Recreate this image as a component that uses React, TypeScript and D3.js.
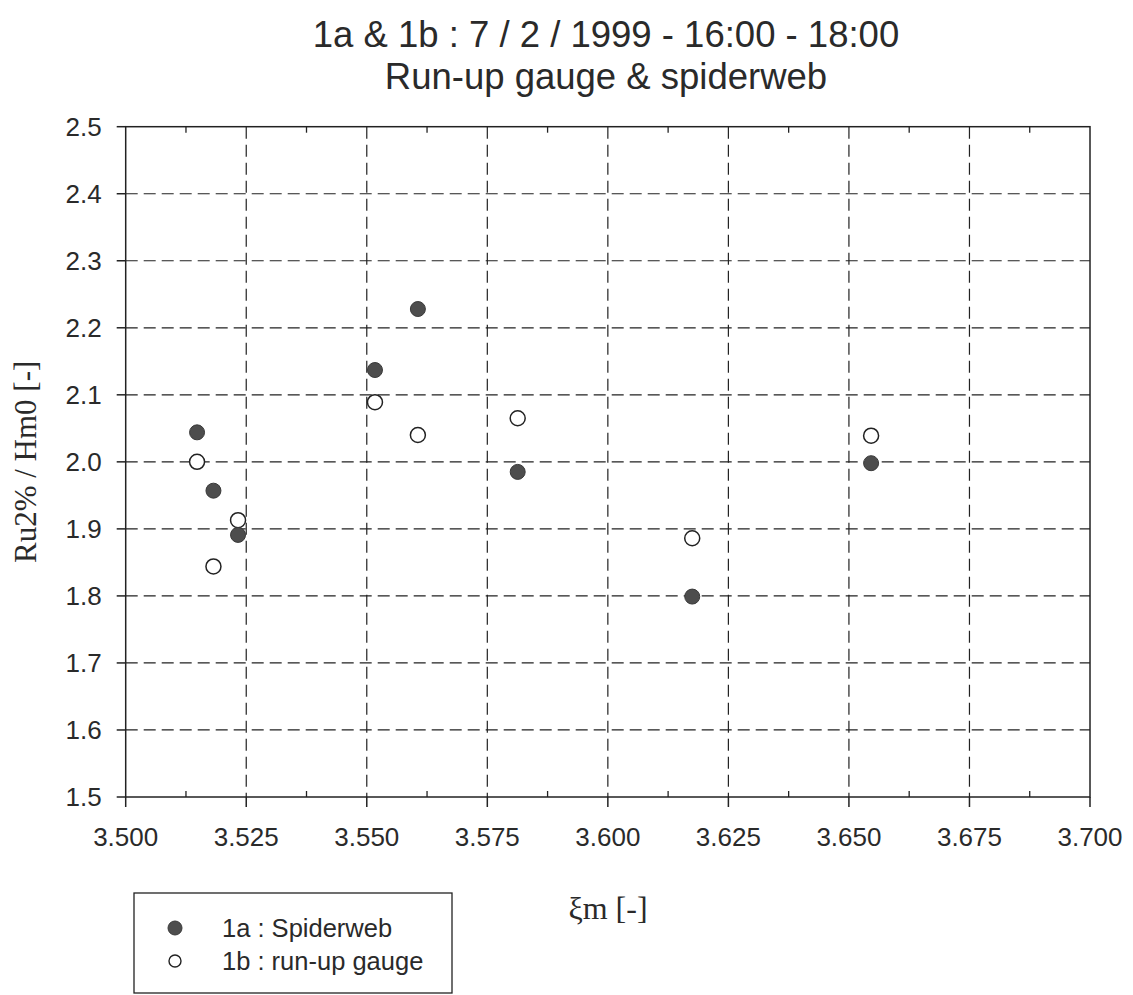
import React from "react";
import * as d3 from "d3";

// Axis ticks
const xTicks = [3.5, 3.525, 3.55, 3.575, 3.6, 3.625, 3.65, 3.675, 3.7];
const yTicks = [1.5, 1.6, 1.7, 1.8, 1.9, 2.0, 2.1, 2.2, 2.3, 2.4, 2.5];

// Surf similarity parameter ξm for each measurement
const xiValues = [3.5148, 3.5182, 3.5233, 3.5517, 3.5606, 3.5813, 3.6175, 3.6546];
// Relative run-up Ru2%/Hm0 per instrument
const spiderweb = [2.044, 1.957, 1.891, 2.137, 2.228, 1.985, 1.799, 1.998];
const runupGauge = [2.0, 1.844, 1.913, 2.089, 2.04, 2.065, 1.886, 2.039];

const titleLines = ["1a & 1b : 7 / 2 / 1999 - 16:00 - 18:00", "Run-up gauge & spiderweb"];
const legendLabels = ["1a : Spiderweb", "1b : run-up gauge"];

const W = 1133;
const H = 995;
const left = 125.7;
const right = 1090;
const top = 126.7;
const bottom = 797;

const sans = "'Liberation Sans', Arial, sans-serif";
const serif = "'Liberation Serif', 'Times New Roman', serif";

export default function App() {
  const x = d3.scaleLinear().domain([3.5, 3.7]).range([left, right]);
  const y = d3.scaleLinear().domain([1.5, 2.5]).range([bottom, top]);

  const minorX = d3.pairs(xTicks).map(([a, b]) => (a + b) / 2);
  const ink = "#222";

  return (
    <svg
      width={W}
      height={H}
      style={{ position: "absolute", left: 0, top: 0, background: "#fff" }}
    >
      <rect width={W} height={H} fill="#fff" />

      {/* title */}
      {titleLines.map((t, i) => (
        <text
          key={t}
          x={606}
          y={47 + i * 42}
          textAnchor="middle"
          fontFamily={sans}
          fontSize={36.5}
          fill="#2a2a2a"
        >
          {t}
        </text>
      ))}

      {/* dashed grid */}
      {xTicks.slice(1, -1).map((v) => (
        <line
          key={"gx" + v}
          x1={x(v)}
          x2={x(v)}
          y1={top}
          y2={bottom}
          stroke={ink}
          strokeWidth={1.2}
          strokeDasharray="12,6"
        />
      ))}
      {yTicks.slice(1, -1).map((v) => (
        <line
          key={"gy" + v}
          x1={left}
          x2={right}
          y1={y(v)}
          y2={y(v)}
          stroke={ink}
          strokeWidth={1.2}
          strokeDasharray="12,6"
        />
      ))}

      {/* frame */}
      <rect
        x={left}
        y={top}
        width={right - left}
        height={bottom - top}
        fill="none"
        stroke={ink}
        strokeWidth={1.5}
      />

      {/* major ticks, outward */}
      {xTicks.map((v) => (
        <line key={"tx" + v} x1={x(v)} x2={x(v)} y1={bottom} y2={bottom + 10} stroke={ink} strokeWidth={1.5} />
      ))}
      {yTicks.map((v) => (
        <line key={"ty" + v} x1={left - 9} x2={left} y1={y(v)} y2={y(v)} stroke={ink} strokeWidth={1.5} />
      ))}
      {/* minor ticks, inward on top and bottom */}
      {minorX.map((v) => (
        <g key={"mx" + v}>
          <line x1={x(v)} x2={x(v)} y1={bottom} y2={bottom - 6} stroke={ink} strokeWidth={1.3} />
          <line x1={x(v)} x2={x(v)} y1={top} y2={top + 6} stroke={ink} strokeWidth={1.3} />
        </g>
      ))}

      {/* tick labels */}
      {xTicks.map((v) => (
        <text
          key={"lx" + v}
          x={x(v)}
          y={bottom + 49}
          textAnchor="middle"
          fontFamily={sans}
          fontSize={26}
          fill="#2a2a2a"
        >
          {d3.format(".3f")(v)}
        </text>
      ))}
      {yTicks.map((v) => (
        <text
          key={"ly" + v}
          x={left - 24}
          y={y(v) + 9}
          textAnchor="end"
          fontFamily={sans}
          fontSize={26}
          fill="#2a2a2a"
        >
          {d3.format(".1f")(v)}
        </text>
      ))}

      {/* axis titles */}
      <text
        transform={`translate(36, ${(top + bottom) / 2}) rotate(-90)`}
        textAnchor="middle"
        fontFamily={serif}
        fontSize={31}
        fill="#2a2a2a"
      >
        Ru2% / Hm0 [-]
      </text>
      <text x={608} y={919} textAnchor="middle" fontFamily={serif} fontSize={32} fill="#2a2a2a">
        ξm [-]
      </text>

      {/* data */}
      {xiValues.map((v, i) => (
        <circle
          key={"b" + i}
          cx={x(v)}
          cy={y(runupGauge[i])}
          r={7.5}
          fill="#fff"
          stroke={ink}
          strokeWidth={1.5}
        />
      ))}
      {xiValues.map((v, i) => (
        <circle
          key={"a" + i}
          cx={x(v)}
          cy={y(spiderweb[i])}
          r={7.5}
          fill="#4d4d4d"
          stroke="#3a3a3a"
          strokeWidth={1}
        />
      ))}

      {/* legend */}
      <rect x={134} y={893} width={318} height={100} fill="#fff" stroke={ink} strokeWidth={1.3} />
      <circle cx={175} cy={928} r={7} fill="#4d4d4d" stroke="#3a3a3a" strokeWidth={1} />
      <circle cx={175} cy={961} r={6} fill="#fff" stroke={ink} strokeWidth={1.4} />
      {legendLabels.map((t, i) => (
        <text key={t} x={222} y={937 + i * 33} fontFamily={sans} fontSize={25.5} fill="#2a2a2a">
          {t}
        </text>
      ))}
    </svg>
  );
}
